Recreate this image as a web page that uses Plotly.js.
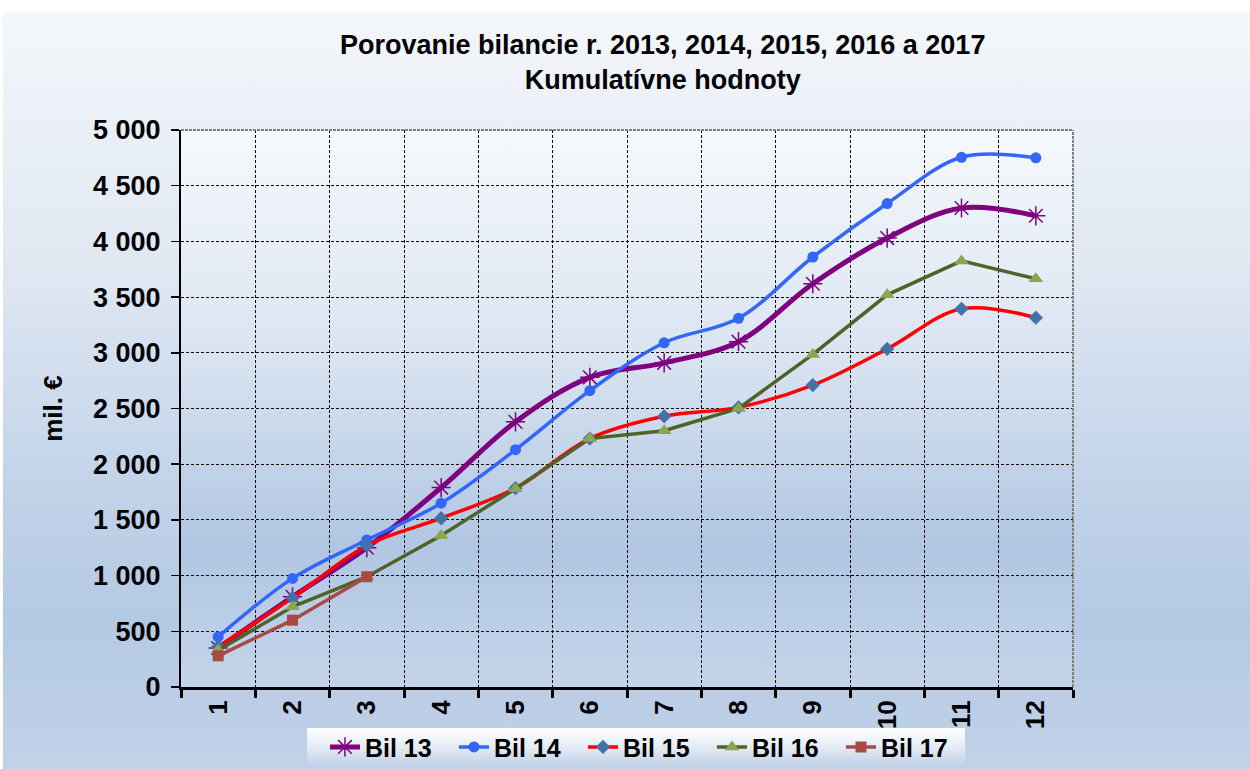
<!DOCTYPE html>
<html>
<head>
<meta charset="utf-8">
<script src="https://cdn.plot.ly/plotly-3.0.1.min.js"></script>
<style>
  html, body { margin:0; padding:0; background:#ffffff; }
  #bg { position:absolute; left:3px; top:12px; width:1247px; height:757px;
        background: linear-gradient(to bottom, #f4f7fb 0%, #dfe7f2 35%, #c4d5ea 60%, #b4c9e3 80%, #c1d2e8 100%); }
  #chart { position:absolute; left:0; top:0; width:1250px; height:769px; }
</style>
</head>
<body>
<div id="bg"></div>
<div id="chart"></div>
<script>
const months = ['1','2','3','4','5','6','7','8','9','10','11','12'];
const bil13 = [350, 810, 1250, 1790, 2380, 2780, 2910, 3100, 3620, 4030, 4300, 4230];
const bil14 = [450, 975, 1320, 1650, 2130, 2660, 3090, 3310, 3860, 4340, 4755, 4750];
const bil15 = [360, 800, 1270, 1515, 1785, 2230, 2430, 2510, 2710, 3035, 3395, 3315];
const bil16 = [330, 720, 990, 1360, 1780, 2230, 2300, 2500, 2985, 3520, 3825, 3665];
const bil17 = [280, 600, 990];
const months17 = months.slice(0, bil17.length);

const FONT = "Liberation Sans, Arial, sans-serif";

const traces = [
  { name:'Bil 13', x:months, y:bil13, type:'scatter', mode:'lines+markers',
    line:{color:'#7f007f', width:5, shape:'spline', smoothing:1},
    marker:{symbol:'asterisk-open', size:16, color:'#7f007f', line:{color:'#7f007f', width:1.5}} },
  { name:'Bil 14', x:months, y:bil14, type:'scatter', mode:'lines+markers',
    line:{color:'#3366ff', width:3.5, shape:'spline', smoothing:1},
    marker:{symbol:'circle', size:11, color:'#3366ff'} },
  { name:'Bil 15', x:months, y:bil15, type:'scatter', mode:'lines+markers',
    line:{color:'#ff0000', width:3.5, shape:'spline', smoothing:1},
    marker:{symbol:'diamond', size:11, color:'#4472a8'} },
  { name:'Bil 16', x:months, y:bil16, type:'scatter', mode:'lines+markers',
    line:{color:'#4f6228', width:3.5},
    marker:{symbol:'triangle-up', size:13, color:'#8ca64e'} },
  { name:'Bil 17', x:months17, y:bil17, type:'scatter', mode:'lines+markers',
    line:{color:'#a84a43', width:3.5},
    marker:{symbol:'square', size:11, color:'#a84a43'} }
];

const gradSvg = '<svg xmlns="http://www.w3.org/2000/svg" width="100" height="100" preserveAspectRatio="none">' +
  '<defs><linearGradient id="g" x1="0" y1="0" x2="0" y2="1">' +
  '<stop offset="0" stop-color="#f6f9fd"/><stop offset="0.4" stop-color="#dae4f1"/>' +
  '<stop offset="0.75" stop-color="#b0c6e2"/><stop offset="1" stop-color="#c4d5ea"/>' +
  '</linearGradient></defs><rect width="100" height="100" fill="url(#g)"/></svg>';
const legSvg = '<svg xmlns="http://www.w3.org/2000/svg" width="100" height="100" preserveAspectRatio="none">' +
  '<defs><linearGradient id="g" x1="0" y1="0" x2="0" y2="1">' +
  '<stop offset="0" stop-color="#ffffff"/><stop offset="0.5" stop-color="#e6ecf5"/>' +
  '<stop offset="1" stop-color="#c2d2e8"/>' +
  '</linearGradient></defs><rect width="100" height="100" fill="url(#g)"/></svg>';
const uri = s => 'data:image/svg+xml;base64,' + btoa(s);

const layout = {
  width:1250, height:769,
  margin:{l:181, r:177, t:130, b:82, autoexpand:false},
  paper_bgcolor:'rgba(0,0,0,0)',
  plot_bgcolor:'rgba(0,0,0,0)',
  separators:', ',
  font:{family:FONT, color:'#000000'},
  title:{
    text:'Porovanie bilancie r. 2013, 2014, 2015, 2016 a 2017<br>Kumulatívne hodnoty',
    font:{family:FONT, size:27, weight:'bold', color:'#000'},
    xref:'paper', x:0.54, xanchor:'center',
    yref:'container', y:0.93, yanchor:'top'
  },
  xaxis:{
    type:'category', range:[-0.5, 11.5], tickson:'boundaries', automargin:false,
    showgrid:true, gridcolor:'#000000', griddash:'3px,2px', gridwidth:1,
    showline:true, linecolor:'#000000', linewidth:3,
    ticks:'outside', ticklen:8, tickwidth:3, tickcolor:'#000000',
    tickangle:-90, tickfont:{family:FONT, size:26, weight:'bold'},
    fixedrange:true
  },
  yaxis:{
    range:[0, 5000], dtick:500, tick0:0, tickformat:',d', automargin:false,
    showgrid:true, gridcolor:'#000000', griddash:'3px,2px', gridwidth:1,
    zeroline:false,
    showline:true, linecolor:'#000000', linewidth:2,
    ticks:'outside', ticklen:8, tickwidth:1.5, tickcolor:'#000000',
    ticklabelstandoff:5,
    tickfont:{family:FONT, size:27, weight:'bold'},
    title:{text:'mil. €', font:{family:FONT, size:26, weight:'bold'}, standoff:23},
    fixedrange:true
  },
  legend:{
    orientation:'h', x:0.1614, xanchor:'left', y:-0.108, yanchor:'middle',
    bgcolor:'rgba(0,0,0,0)', borderwidth:0,
    font:{family:FONT, size:25, weight:'bold'},
    itemwidth:30, entrywidth:84, entrywidthmode:'pixels', tracegroupgap:0
  },
  images:[
    {source:uri(gradSvg), xref:'paper', yref:'paper', x:0, y:1, sizex:1, sizey:1,
     sizing:'stretch', layer:'below', xanchor:'left', yanchor:'top'},
    {source:uri(legSvg), xref:'paper', yref:'paper', x:0.1413, y:-0.0736, sizex:0.7377, sizey:0.0664,
     sizing:'stretch', layer:'above', xanchor:'left', yanchor:'top'}
  ],
  shapes:[
    {type:'line', xref:'paper', yref:'paper', x0:1, x1:1, y0:0, y1:1,
     line:{color:'#808080', width:2, dash:'3px,1px'}},
    {type:'line', xref:'paper', yref:'paper', x0:0, x1:1, y0:1, y1:1,
     line:{color:'#808080', width:2, dash:'3px,1px'}}
  ],
  showlegend:true
};

Plotly.newPlot('chart', traces, layout, {displayModeBar:false, staticPlot:true});
</script>
</body>
</html>
